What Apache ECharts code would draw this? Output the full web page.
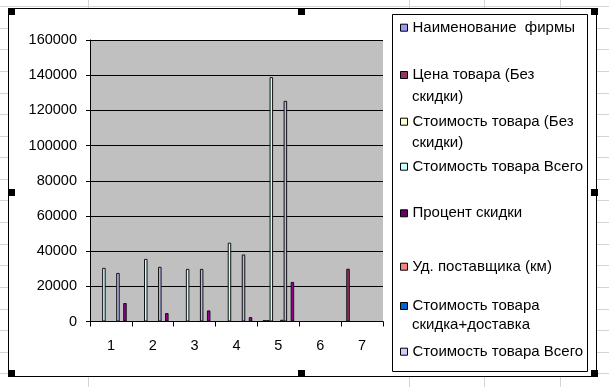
<!DOCTYPE html>
<html>
<head>
<meta charset="utf-8">
<script src="https://cdn.jsdelivr.net/npm/echarts@6/dist/echarts.min.js"></script>
<style>
html,body{margin:0;padding:0;background:#fff;}
#chart{width:609px;height:387px;}
</style>
</head>
<body>
<div id="chart"></div>
<script>
// ---- data ----
const categories = ['1', '2', '3', '4', '5', '6', '7'];
const yTicks = [0, 20000, 40000, 60000, 80000, 100000, 120000, 140000, 160000];

const priceNoDiscount   = [null, null, null, null, 800, null, 30000];     // Цена товара (Без скидки)
const discountPercent   = [null, null, null, null, 800, null, null];      // Процент скидки
const totalCost1        = [30500, 35600, 29900, 44800, 138900, null, null]; // Стоимость товара Всего
const firmName          = [null, null, null, null, null, null, null];     // Наименование фирмы
const costNoDiscount    = [null, null, null, null, null, null, null];     // Стоимость товара (Без скидки)
const supplierDistance  = [null, null, null, null, 1000, null, null];     // Уд. поставщика (км)
const totalCost2        = [27600, 31100, 29900, 38100, 125400, null, null]; // Стоимость товара Всего
const costDiscDelivery  = [null, null, null, null, null, null, null];     // Стоимость товара скидка+доставка
const series9           = [10500, 4800, 6300, 2500, 22500, null, null];

const seriesNames = [
  'Цена товара (Без скидки)',
  'Процент скидки',
  'Стоимость товара Всего',
  'Наименование  фирмы',
  'Стоимость товара (Без скидки)',
  'Уд. поставщика (км)',
  'Стоимость товара Всего ',
  'Стоимость товара скидка+доставка',
  'Ряд9'
];
const seriesValues = [priceNoDiscount, discountPercent, totalCost1, firmName, costNoDiscount,
  supplierDistance, totalCost2, costDiscDelivery, series9];
const seriesColors = ['#993366', '#660066', '#CCFFFF', '#9999FF', '#FFFFCC', '#FF8080', '#B8B8F0', '#0066CC', '#990099'];

// legend order and wrapped text lines
const legendOrder = [
  {name: 'Наименование  фирмы', lines: ['Наименование  фирмы']},
  {name: 'Цена товара (Без скидки)', lines: ['Цена товара (Без', 'скидки)']},
  {name: 'Стоимость товара (Без скидки)', lines: ['Стоимость товара (Без', 'скидки)']},
  {name: 'Стоимость товара Всего', lines: ['Стоимость товара Всего']},
  {name: 'Процент скидки', lines: ['Процент скидки']},
  {name: 'Уд. поставщика (км)', lines: ['Уд. поставщика (км)']},
  {name: 'Стоимость товара скидка+доставка', lines: ['Стоимость товара', 'скидка+доставка']},
  {name: 'Стоимость товара Всего ', lines: ['Стоимость товара Всего']}
];

// ---- layout ----
const FONT = "'Liberation Sans', Arial, sans-serif";
const legendLineY = [[27.7], [75, 96.7], [121.7, 143.3], [166.7], [213.3], [266.7], [306, 325], [351.7]];
const legendIconColors = ['#9999FF', '#993366', '#FFFFCC', '#CCFFFF', '#660066', '#FF8080', '#0066CC', '#CCCCFF'];

const chart = echarts.init(document.getElementById('chart'), null, {renderer: 'canvas'});

const series = seriesNames.map((n, i) => ({
  name: n,
  type: 'bar',
  data: seriesValues[i],
  barGap: '0%',
  barCategoryGap: '24.5%',
  itemStyle: {color: seriesColors[i], borderColor: '#111', borderWidth: 1},
  emphasis: {disabled: true},
  animation: false
}));

const legends = legendOrder.map((it, i) => ({
  data: [it.name],
  orient: 'vertical',
  left: 400,
  top: legendLineY[i][0] - 8.5,
  padding: 0,
  itemWidth: 7,
  itemHeight: 7,
  icon: 'rect',
  itemStyle: {color: legendIconColors[i], borderColor: '#000', borderWidth: 1},
  textStyle: {fontFamily: FONT, fontSize: 15, color: '#000', lineHeight: 17},
  formatter: () => it.lines[0],
  selectedMode: false
}));

const graphics = [];
// spreadsheet grid lines behind the chart
for (let y = 6.1; y < 387; y += 21.6) {
  graphics.push({type: 'line', z: -30, shape: {x1: 0, y1: Math.round(y) + 0.5, x2: 609, y2: Math.round(y) + 0.5},
    style: {stroke: '#D4D4D4', lineWidth: 1}});
}
[88, 409, 484, 560].forEach(x => graphics.push({type: 'line', z: -30,
  shape: {x1: x + 0.5, y1: 0, x2: x + 0.5, y2: 387}, style: {stroke: '#D4D4D4', lineWidth: 1}}));
// chart area
graphics.push({type: 'rect', z: -20, shape: {x: 8.5, y: 8.5, width: 588, height: 368},
  style: {fill: '#fff', stroke: '#000', lineWidth: 1}});
// legend box
graphics.push({type: 'rect', z: -10, shape: {x: 392.5, y: 14.5, width: 195, height: 357},
  style: {fill: '#fff', stroke: '#000', lineWidth: 1}});
// wrapped legend continuation lines
legendOrder.forEach((it, i) => {
  for (let k = 1; k < it.lines.length; k++) {
    graphics.push({type: 'text', z: 10, x: 412, y: legendLineY[i][k],
      style: {text: it.lines[k], font: '15px ' + FONT, fill: '#000', textVerticalAlign: 'middle'}});
  }
});
// selection handles
[[8, 8], [8, 189], [8, 370], [298, 8], [298, 370], [591, 8], [591, 189], [591, 370]].forEach(p =>
  graphics.push({type: 'rect', z: 20, shape: {x: p[0], y: p[1], width: 7, height: 7}, style: {fill: '#000'}}));

chart.setOption({
  animation: false,
  backgroundColor: 'transparent',
  textStyle: {fontFamily: FONT},
  grid: {left: 90, right: 226, top: 40, bottom: 65.5, show: true, backgroundColor: '#C0C0C0', borderWidth: 0},
  xAxis: {
    type: 'category',
    data: categories,
    boundaryGap: true,
    axisLine: {show: true, lineStyle: {color: '#000', width: 1}},
    axisTick: {show: true, length: 5, lineStyle: {color: '#000'}},
    axisLabel: {fontSize: 14.5, color: '#000', margin: 17, fontFamily: FONT},
    splitLine: {show: false}
  },
  yAxis: {
    type: 'value',
    min: yTicks[0],
    max: yTicks[yTicks.length - 1],
    interval: yTicks[1] - yTicks[0],
    axisLine: {show: true, lineStyle: {color: '#000', width: 1}},
    axisTick: {show: true, length: 4, lineStyle: {color: '#000'}},
    axisLabel: {fontSize: 14.5, color: '#000', margin: 13, fontFamily: FONT, formatter: v => String(v)},
    splitLine: {show: true, lineStyle: {color: '#000', width: 1}}
  },
  legend: legends,
  graphic: {elements: graphics},
  series: series
});
</script>
</body>
</html>
